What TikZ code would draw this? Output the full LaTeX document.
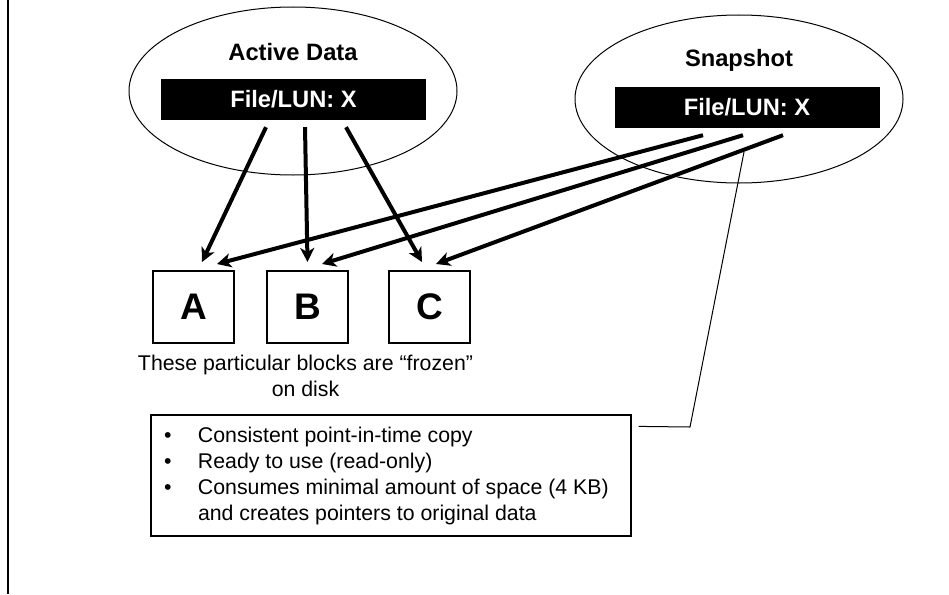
\documentclass[tikz,border=0pt]{standalone}
\usepackage{fontspec}
\setmainfont{Liberation Sans}
\usetikzlibrary{arrows.meta,shapes.geometric,positioning}

\tikzset{
  cloud/.style={ellipse, draw, line width=1pt, minimum width=328pt, minimum height=168pt, inner sep=0pt},
  lunbox/.style={fill=black, text=white, minimum width=265pt, minimum height=41pt, inner sep=0pt,
                 font=\fontsize{23.7}{28}\selectfont\bfseries},
  title/.style={font=\fontsize{23.7}{28}\selectfont\bfseries},
  block/.style={draw, line width=2pt, minimum width=81pt, minimum height=72pt, inner sep=0pt,
                font=\fontsize{37}{40}\selectfont\bfseries},
  ptr/.style={-{Stealth[length=14pt,width=14pt,inset=4pt]}, line width=4pt},
  ptrsnap/.style={line width=4pt},
}

\begin{document}
\begin{tikzpicture}[x=1pt,y=-1pt]
  \useasboundingbox (0,0) rectangle (949,594);
  \draw[line width=2pt] (8,0) -- (8,594);

  % active file system
  \node[cloud]  (act)    at (293,91)  {};
  \node[title]  (acttxt) at (293,52)  {Active Data};
  \node[lunbox] (actbox) at (293.5,99.5) {File/LUN: X};

  % snapshot
  \node[cloud]  (snap)    at (739,99)   {};
  \node[title]  (snaptxt) at (739,60)   {Snapshot};
  \node[lunbox] (snapbox) at (747,107.5) {File/LUN: X};

  % blocks on disk
  \node[block] (A) at (193.5,307) {A};
  \node[block] (B) [right=31pt of A] {B};
  \node[block] (C) [right=39pt of B] {C};

  \node[align=center, font=\fontsize{21.3}{26}\selectfont] (frozen) at (305.5,376)
    {These particular blocks are “frozen”\\on disk};

  \node[draw, line width=1.2pt, minimum width=480pt, minimum height=121pt, inner sep=0pt,
        font=\fontsize{21.3}{26}\selectfont] (note) at (391,475.5)
    {\parbox[c]{454pt}{\raggedright
      \makebox[34pt][l]{\textbullet}Consistent point-in-time copy\\
      \makebox[34pt][l]{\textbullet}Ready to use (read-only)\\
      \makebox[34pt][l]{\textbullet}Consumes minimal amount of space (4 KB)\\
      \hspace*{34pt}and creates pointers to original data}};

  \draw[ptr] ([xshift=-27.5pt,yshift=-7pt]actbox.south) -- ([xshift=8.5pt,yshift=8pt]A.north);
  \draw[ptr] ([xshift=11.5pt,yshift=-7pt]actbox.south)  -- ([yshift=8pt]B.north);
  \draw[ptr] ([xshift=52.5pt,yshift=-7pt]actbox.south)  -- ([xshift=-7.5pt,yshift=8pt]C.north);

  \draw[ptr] ([xshift=-44pt,yshift=-7pt]snapbox.south) -- ([xshift=23.5pt,yshift=6pt]A.north);
  \draw[ptr] ([xshift=-4pt,yshift=-7pt]snapbox.south)  -- ([xshift=14.5pt,yshift=6pt]B.north);
  \draw[ptr] ([xshift=36pt,yshift=-7pt]snapbox.south)  -- ([xshift=6.5pt,yshift=6pt]C.north);

  % callout
  \coordinate (knee) at (690,427);
  \coordinate (hook) at (744,152);
  \draw[line width=1pt] ([xshift=7pt,yshift=-12pt]note.north east) -- (knee) -- (hook);
\end{tikzpicture}
\end{document}
